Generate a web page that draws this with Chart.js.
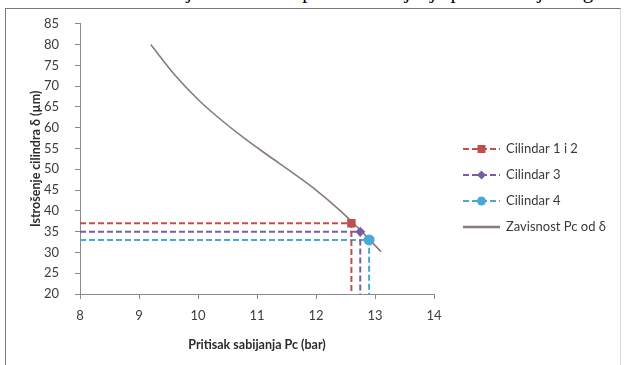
<!DOCTYPE html>
<html>
<head>
<meta charset="utf-8">
<script src="https://cdn.jsdelivr.net/npm/chart.js@4.4.1/dist/chart.umd.min.js"></script>
<style>
  html, body { margin: 0; padding: 0; background: #fff; width: 624px; height: 365px; overflow: hidden; }
  #caption { position: absolute; left: 2px; top: -21px; white-space: nowrap;
             font-family: "Liberation Serif", serif; font-size: 21px; color: #000; }
  #frame { position: absolute; left: 5px; top: 8px; width: 614px; height: 370px;
           border: 1px solid #7a7a7a; border-right-color: #d8d8d8; background: #fff; }
  #wrap { position: absolute; left: 0; top: 0; width: 624px; height: 365px; }
</style>
</head>
<body>
<div id="caption">kao zavisnost istrošenja cilindra od pritiska sabijanja prikazana je na grafiku ispod</div>
<div id="frame"></div>
<div id="wrap"><canvas id="c" width="624" height="365"></canvas></div>
<script>
// Curve: compression pressure Pc (bar) vs. cylinder wear δ (µm)
const curvePc    = [9.2, 9.6, 10.0, 10.4, 10.8, 11.2, 11.6, 12.0, 12.4, 12.6, 12.9, 13.1];
const curveDelta = [80, 72.8, 66.8, 61.8, 57.3, 53.2, 49.2, 45.0, 40.2, 37.5, 33.2, 30.2];

// Measured cylinders
const cylinderNames = ['Cilindar 1 i 2', 'Cilindar 3', 'Cilindar 4'];
const cylinderPc    = [12.6, 12.75, 12.9];
const cylinderDelta = [37, 35, 33];
const curveName = 'Zavisnost Pc od δ';

// Axis ranges / tick labels
const xTicks = [8, 9, 10, 11, 12, 13, 14];
const yTicks = [20, 25, 30, 35, 40, 45, 50, 55, 60, 65, 70, 75, 80, 85];

const cylColors  = ['#c0504d', '#7a5ca0', '#4aa8d8'];
const cylMarkers = ['rect', 'rectRot', 'circle'];
const cylRadius  = [6, 5, 5.5];

const xMin = xTicks[0], xMax = xTicks[xTicks.length - 1];
const yMin = yTicks[0], yMax = yTicks[yTicks.length - 1];

const datasets = cylinderNames.map((name, i) => ({
  label: name,
  data: [
    { x: xMin, y: cylinderDelta[i] },
    { x: cylinderPc[i], y: cylinderDelta[i] },
    { x: cylinderPc[i], y: yMin }
  ],
  borderColor: cylColors[i],
  backgroundColor: cylColors[i],
  borderWidth: 2,
  borderDash: [6, 3],
  pointStyle: cylMarkers[i],
  pointRadius: [0, cylRadius[i], 0],
  pointBorderWidth: 0,
  tension: 0
}));

datasets.push({
  label: curveName,
  data: curvePc.map((x, i) => ({ x, y: curveDelta[i] })),
  borderColor: '#877b7c',
  backgroundColor: '#877b7c',
  borderWidth: 1.6,
  pointRadius: 0,
  cubicInterpolationMode: 'monotone'
});

// Legend drawn beside the plot: sample line with marker, then label
const sideLegend = {
  id: 'sideLegend',
  afterDraw(chart) {
    const ctx = chart.ctx;
    const x0 = 463, x1 = 500, tx = 506;
    const cx = (x0 + x1) / 2;
    const rows = [149, 175, 201, 227];
    ctx.save();
    ctx.font = '13px Lato, "Open Sans", sans-serif';
    ctx.textBaseline = 'middle';
    chart.data.datasets.forEach((ds, i) => {
      const y = rows[i];
      const isCurve = i >= cylinderNames.length;
      ctx.strokeStyle = ds.borderColor;
      ctx.lineWidth = isCurve ? 2.5 : 2;
      ctx.setLineDash(ds.borderDash || []);
      ctx.beginPath();
      ctx.moveTo(x0, y);
      ctx.lineTo(x1, y);
      ctx.stroke();
      ctx.setLineDash([]);
      if (!isCurve) {
        ctx.fillStyle = ds.backgroundColor;
        ctx.beginPath();
        if (ds.pointStyle === 'rect') ctx.rect(cx - 4, y - 4, 8, 8);
        else if (ds.pointStyle === 'rectRot') {
          ctx.moveTo(cx, y - 4.5); ctx.lineTo(cx + 4.5, y); ctx.lineTo(cx, y + 4.5); ctx.lineTo(cx - 4.5, y);
          ctx.closePath();
        } else ctx.arc(cx, y, 4.5, 0, Math.PI * 2);
        ctx.fill();
      }
      ctx.fillStyle = '#3a3a3a';
      ctx.fillText(ds.label, tx, y);
    });
    ctx.restore();
  }
};

new Chart(document.getElementById('c'), {
  type: 'line',
  data: { datasets },
  options: {
    responsive: false,
    animation: false,
    layout: { padding: { left: 0, top: 22, right: 190, bottom: 0 } },
    plugins: { legend: { display: false }, tooltip: { enabled: false } },
    scales: {
      x: {
        type: 'linear',
        min: xMin, max: xMax,
        afterFit(scale) { scale.height = 71; },
        afterBuildTicks(scale) { scale.ticks = xTicks.map(v => ({ value: v })); },
        grid: { display: true, drawOnChartArea: false, drawTicks: true, tickLength: 5, color: '#8a8a8a' },
        border: { display: true, color: '#8a8a8a', width: 1 },
        ticks: { padding: 9, color: '#3c3c3c', font: { family: 'Lato, "Open Sans", sans-serif', size: 13 } },
        title: {
          display: true, text: 'Pritisak sabijanja Pc (bar)', color: '#2c2c2c',
          font: { family: 'Lato, "Open Sans", sans-serif', size: 12.5, weight: 'bold' },
          padding: { top: 0, bottom: 13 }
        }
      },
      y: {
        type: 'linear',
        min: yMin, max: yMax,
        afterFit(scale) { scale.width = 80; },
        afterBuildTicks(scale) { scale.ticks = yTicks.map(v => ({ value: v })); },
        grid: { display: true, drawOnChartArea: false, drawTicks: true, tickLength: 5, color: '#8a8a8a' },
        border: { display: true, color: '#8a8a8a', width: 1 },
        ticks: { padding: 16, color: '#3c3c3c', font: { family: 'Lato, "Open Sans", sans-serif', size: 13 } },
        title: {
          display: true, text: 'Istrošenje cilindra δ (µm)', color: '#2c2c2c',
          font: { family: 'Lato, "Open Sans", sans-serif', size: 12.5, weight: 'bold' },
          padding: { top: 28, bottom: 0 }
        }
      }
    }
  },
  plugins: [sideLegend]
});
</script>
</body>
</html>
